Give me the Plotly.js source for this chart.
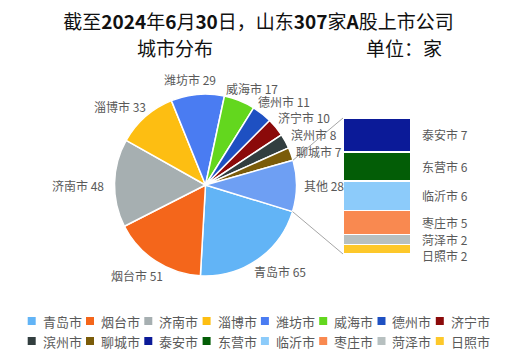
<!DOCTYPE html>
<html><head><meta charset="utf-8">
<script src="https://cdn.plot.ly/plotly-3.0.1.min.js"></script>
<style>html,body{margin:0;padding:0;background:#fff}</style>
</head><body><div id="chart" style="width:530px;height:357px"></div>
<script>
// ---- data ----
const pieLabels = ['青岛市','烟台市','济南市','淄博市','潍坊市','威海市','德州市','济宁市','滨州市','聊城市'];
const pieValues = [65,51,48,33,29,17,11,10,8,7];
const otherName = '其他';
const barLabels = ['泰安市','东营市','临沂市','枣庄市','菏泽市','日照市'];
const barValues = [7,6,6,5,2,2];

// ---- styles ----
const pieColors = ['#62b4f6','#f4661b','#a6afb1','#fdbe12','#4a7cf2','#63d71e','#1e50c2','#8b0a0a','#323e3f','#7b5c0a'];
const otherColor = '#6e9ff3';
const barColors = ['#0b1a98','#035d06','#8ccbfa','#f98950','#b7c0c0','#fdc82a'];
// pixel offsets of each pie label from its slice's rim midpoint (pie labels + 其他)
const labelOffsets = [[22,12],[-19,14],[-36.5,2],[-25,-10],[-7.6,-14.4],[12.4,-12.6],[22,-11.7],[28,-9.4],[28.7,-6.3],[28,-2],[27.5,0]];
const FONT = '"Noto Sans CJK SC", "Noto Sans", sans-serif';
const LABEL_COLOR = '#595959';
const W = 530, H = 357;
const pie = {cx: 205.5, cy: 185, r: 91, rotation: 107};
const bar = {left: 343, right: 411, top: 118, bottom: 254};
const MIN_LABEL_GAP = 16;
const px = x => x / W, py = y => 1 - y / H;

const otherTotal = barValues.reduce((a, b) => a + b, 0);
const labels = pieLabels.concat([otherName]);
const values = pieValues.concat([otherTotal]);
const colors = pieColors.concat([otherColor]);
const total = values.reduce((a, b) => a + b, 0);

const traces = [{
  type: 'pie', labels: labels, values: values, sort: false, direction: 'clockwise',
  rotation: pie.rotation,
  domain: {x: [px(pie.cx - pie.r), px(pie.cx + pie.r)], y: [py(pie.cy + pie.r), py(pie.cy - pie.r)]},
  marker: {colors: colors, line: {color: '#ffffff', width: 1.5}},
  textinfo: 'none',
  hoverinfo: 'label+value', showlegend: false, automargin: false
}];

// stacked bar, bottom to top
for (let i = barLabels.length - 1; i >= 0; i--) {
  traces.push({
    type: 'bar', x: [0], y: [barValues[i]], width: [1], name: barLabels[i],
    marker: {color: barColors[i], line: {color: '#ffffff', width: 1.5}},
    xaxis: 'x', yaxis: 'y', showlegend: false, hoverinfo: 'name+y'
  });
}

const annotations = [];
const shapes = [];
const deg = Math.PI / 180;
const rimPoint = a => [pie.cx + pie.r * Math.sin(a), pie.cy - pie.r * Math.cos(a)];

// pie labels, anchored at each slice's mid-angle on the rim
let acc = 0;
values.forEach((v, i) => {
  const mid = (pie.rotation + 360 * (acc + v / 2) / total) * deg;
  acc += v;
  const p = rimPoint(mid);
  annotations.push({
    xref: 'paper', yref: 'paper', x: px(p[0]), y: py(p[1]), xanchor: 'center', yanchor: 'middle',
    xshift: labelOffsets[i][0], yshift: -labelOffsets[i][1], showarrow: false,
    text: labels[i] + ' ' + v, font: {family: FONT, size: 12, color: LABEL_COLOR}
  });
});

// bar labels (centered on segments; lower labels pushed down when too close)
const pxPerUnit = (bar.bottom - bar.top) / otherTotal;
let cum = otherTotal;
let prevY = -Infinity;
barLabels.forEach((n, i) => {
  const mid = cum - barValues[i] / 2;
  cum -= barValues[i];
  const yPix = bar.bottom - mid * pxPerUnit;
  const shown = Math.max(yPix, prevY + MIN_LABEL_GAP);
  prevY = shown;
  annotations.push({
    xref: 'x', yref: 'y', x: 0.5, y: mid, xanchor: 'left', yanchor: 'middle',
    xshift: 9, yshift: -(shown - yPix), showarrow: false, text: n + ' ' + barValues[i],
    font: {family: FONT, size: 12, color: LABEL_COLOR}
  });
});

// title second line
annotations.push({xref: 'paper', yref: 'paper', x: px(175), y: py(48), xanchor: 'center', yanchor: 'middle',
  showarrow: false, text: '城市分布', font: {family: FONT, size: 19, color: '#111111'}});
annotations.push({xref: 'paper', yref: 'paper', x: px(404), y: py(48), xanchor: 'center', yanchor: 'middle',
  showarrow: false, text: '单位：家', font: {family: FONT, size: 19, color: '#111111'}});

// connectors from the 其他 slice to the bar
const aStart = (pie.rotation + 360 * (total - otherTotal) / total) * deg;
const aEnd = pie.rotation * deg;
const p1 = rimPoint(aStart), p2 = rimPoint(aEnd);
shapes.push({type: 'line', xref: 'paper', yref: 'paper', x0: px(p1[0]), y0: py(p1[1]), x1: px(bar.left), y1: py(bar.top),
  line: {color: '#a6a6a6', width: 1}});
shapes.push({type: 'line', xref: 'paper', yref: 'paper', x0: px(p2[0]), y0: py(p2[1]), x1: px(bar.left), y1: py(bar.bottom),
  line: {color: '#a6a6a6', width: 1}});

// legend
const legNames = pieLabels.concat(barLabels);
const legColors = pieColors.concat(barColors);
legNames.forEach((n, i) => {
  const col = i % 8, row = Math.floor(i / 8);
  const sx = 31.7 + col * 58.3, sy = 321 + row * 20;
  shapes.push({type: 'rect', xref: 'paper', yref: 'paper', x0: px(sx - 4), x1: px(sx + 4), y0: py(sy + 4), y1: py(sy - 4),
    fillcolor: legColors[i], line: {width: 0}});
  annotations.push({xref: 'paper', yref: 'paper', x: px(sx + 9), y: py(sy), xanchor: 'left', yanchor: 'middle',
    showarrow: false, text: n, font: {family: FONT, size: 13, color: LABEL_COLOR}});
});

const layout = {
  width: W, height: H, margin: {l: 0, r: 0, t: 0, b: 0},
  paper_bgcolor: '#ffffff', plot_bgcolor: 'rgba(0,0,0,0)', showlegend: false, barmode: 'stack',
  title: {text: '截至<b>2024</b>年<b>6</b>月<b>30</b>日，山东<b>307</b>家<b>A</b>股上市公司',
    x: px(258.5), xanchor: 'center', xref: 'paper', y: 1 - 22 / H, yref: 'container', yanchor: 'middle',
    font: {family: FONT, size: 19, color: '#111111'}},
  xaxis: {domain: [px(bar.left), px(bar.right)], range: [-0.5, 0.5], visible: false, fixedrange: true},
  yaxis: {domain: [py(bar.bottom), py(bar.top)], range: [0, otherTotal], visible: false, fixedrange: true},
  annotations: annotations, shapes: shapes
};

Plotly.newPlot('chart', traces, layout, {displayModeBar: false, staticPlot: true});
</script></body></html>
